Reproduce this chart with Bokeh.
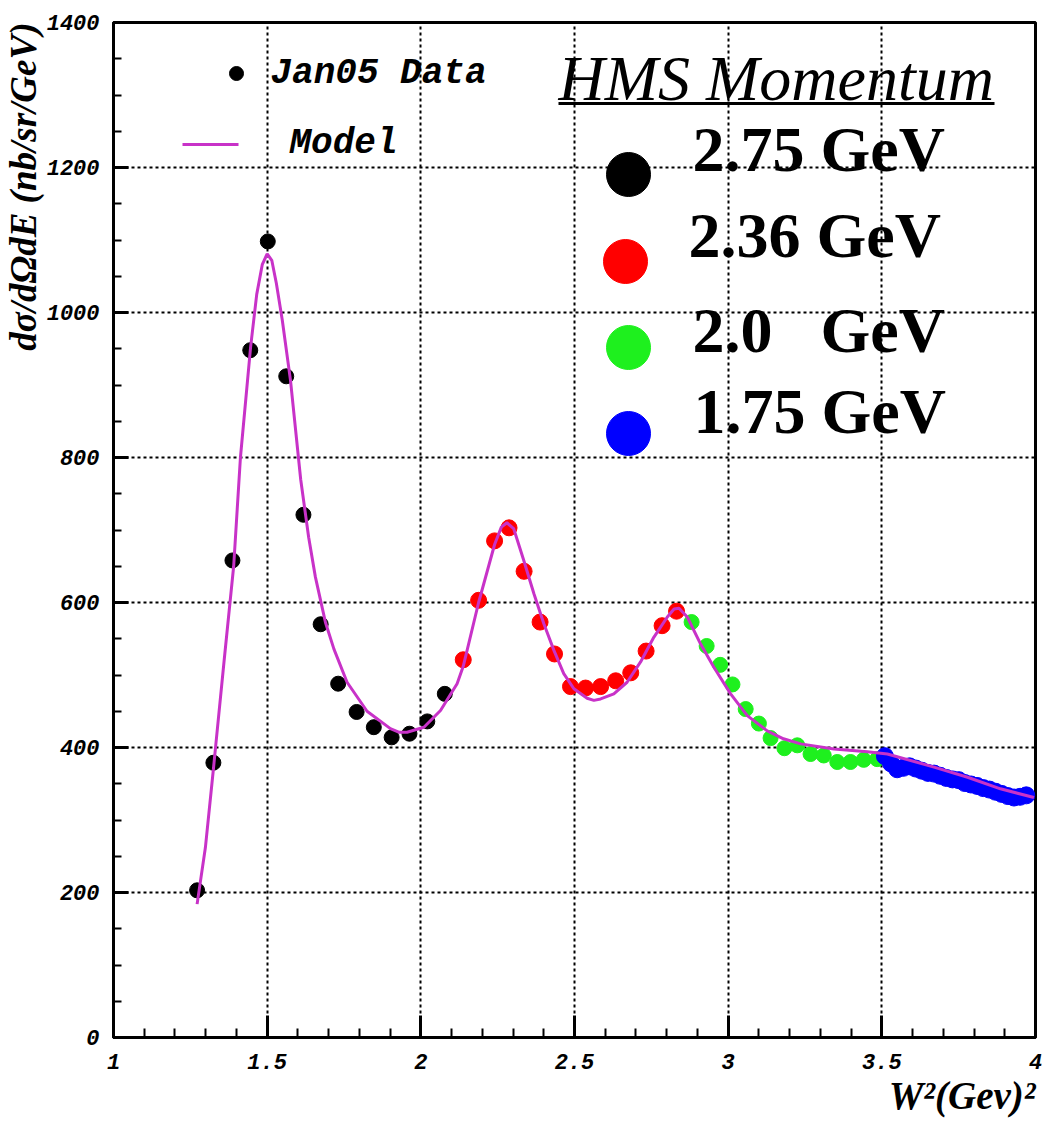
from math import pi
from bokeh.plotting import figure
from bokeh.models import FixedTicker, CustomJSTickFormatter, Label, Title
from bokeh.embed import file_html
from bokeh.resources import INLINE

# ---- data ----
black_x = [1.272, 1.325, 1.387, 1.445, 1.502, 1.562, 1.618, 1.674, 1.731, 1.791, 1.847, 1.905, 1.963, 2.021, 2.078]
black_y = [203, 379, 658, 948, 1098, 912, 721, 570, 488, 449, 428, 414, 419, 436, 474]

red_x = [2.138, 2.188, 2.240, 2.287, 2.336, 2.388, 2.435, 2.487, 2.536, 2.585, 2.634, 2.683, 2.733, 2.785, 2.832]
red_y = [521, 603, 685, 703, 643, 573, 529, 484, 482, 484, 492, 503, 533, 568, 588]

green_x = [2.881, 2.930, 2.974, 3.014, 3.057, 3.100, 3.138, 3.183, 3.225, 3.268, 3.311, 3.355, 3.398, 3.441, 3.485]
green_y = [573, 540, 514, 487, 453, 433, 413, 399, 403, 391, 389, 380, 380, 383, 384]

blue_x = [3.51, 3.53, 3.55, 3.57, 3.59, 3.61, 3.63, 3.65, 3.67, 3.69, 3.71, 3.73,
          3.75, 3.77, 3.79, 3.81, 3.83, 3.85, 3.87, 3.89, 3.91, 3.93, 3.95, 3.97]
blue_y = [388, 378, 370, 372, 374, 371, 368, 365, 364, 361, 358, 356,
          355, 351, 349, 347, 344, 342, 339, 336, 333, 331, 332, 334]

model_x = [1.272, 1.299, 1.325, 1.360, 1.391, 1.413, 1.446, 1.466, 1.484, 1.500, 1.515, 1.530,
           1.549, 1.576, 1.609, 1.635, 1.657, 1.690, 1.717, 1.760, 1.825, 1.901, 1.930, 1.955,
           2.010, 2.064, 2.118, 2.138, 2.188, 2.240, 2.262, 2.280, 2.302, 2.335, 2.368, 2.400,
           2.433, 2.465, 2.498, 2.541, 2.563, 2.585, 2.628, 2.671, 2.715, 2.758, 2.802, 2.824,
           2.840, 2.867, 2.910, 2.953, 3.008, 3.062, 3.127, 3.180, 3.236, 3.344, 3.453, 3.518,
           3.670, 3.779, 3.886, 3.995]
model_y = [184, 262, 370, 520, 650, 800, 952, 1025, 1066, 1081, 1072, 1040,
           990, 906, 770, 690, 635, 572, 536, 490, 450, 426, 421, 421,
           428, 451, 488, 512, 600, 680, 704, 710, 702, 658, 612, 571,
           534, 502, 481, 468, 465, 467, 474, 490, 518, 552, 580, 591,
           592, 580, 543, 511, 474, 444, 423, 412, 405, 398, 394, 391,
           373, 359, 343, 331]

x_major = [1, 1.5, 2, 2.5, 3, 3.5, 4]
x_minor = [round(1 + 0.1 * i, 1) for i in range(31)]
y_major = [0, 200, 400, 600, 800, 1000, 1200, 1400]
y_minor = list(range(0, 1401, 50))

momenta = ["2.75 GeV", "2.36 GeV", "2.0\u00a0\u00a0\u00a0GeV", "1.75 GeV"]
momentum_colors = ["black", "#ff0000", "#1ef01e", "#0000ff"]

MAGENTA = "#c832c8"

# ---- figure ----
W, H = 1046, 1125
L, R, T, B = 113, 11, 22, 88
p = figure(width=W, height=H, x_range=(1, 4), y_range=(0, 1400),
           output_backend="svg", toolbar_location=None,
           min_border_left=L, min_border_right=R, min_border_top=T, min_border_bottom=B,
           background_fill_color="white", border_fill_color="white")
p.outline_line_color = "black"
p.outline_line_width = 3

# pixel -> data helpers for legend decorations
fw = W - L - R
fh = H - T - B
def dx(px):
    return 1 + (px - L) * 3.0 / fw
def dy(py):
    return (H - B - py) * 1400.0 / fh

# axes
p.xaxis.ticker = FixedTicker(ticks=x_major, minor_ticks=x_minor)
p.yaxis.ticker = FixedTicker(ticks=y_major, minor_ticks=y_minor)
p.xaxis.formatter = CustomJSTickFormatter(code="return Number.isInteger(tick) ? tick.toFixed(0) : tick.toFixed(1);")
p.yaxis.formatter = CustomJSTickFormatter(code="return tick.toFixed(0);")
for ax in (p.xaxis, p.yaxis):
    ax.axis_line_width = 3
    ax.major_tick_out = 0
    ax.minor_tick_out = 0
    ax.major_tick_line_width = 3
    ax.minor_tick_line_width = 2
    ax.major_label_text_font = "Liberation Mono"
    ax.major_label_text_font_style = "bold italic"
    ax.major_label_text_font_size = "22px"
    ax.major_label_text_color = "black"
p.xaxis.major_tick_in = 22
p.xaxis.minor_tick_in = 9
p.xaxis.major_label_standoff = 16
p.yaxis.major_tick_in = 15
p.yaxis.minor_tick_in = 8
p.yaxis.major_label_standoff = 14

# grid
p.xgrid.ticker = FixedTicker(ticks=[1.5, 2, 2.5, 3, 3.5])
p.ygrid.ticker = FixedTicker(ticks=[200, 400, 600, 800, 1000, 1200])
for g in (p.xgrid, p.ygrid):
    g.grid_line_color = "black"
    g.grid_line_width = 2
    g.grid_line_dash = "3 3"
    g.grid_line_alpha = 1.0

# data
p.scatter(black_x, black_y, size=15, color="black")
p.scatter(red_x, red_y, size=16, color="#ff0000")
p.scatter(green_x, green_y, size=15, color="#1ef01e")
p.scatter(blue_x, blue_y, size=17, color="#0000ff")
p.line(model_x, model_y, line_color=MAGENTA, line_width=3)

# axis titles (as side titles so they sit outside the frame)
p.add_layout(Title(text="dσ/dΩdE (nb/sr/GeV)", align="right", standoff=0,
                   text_font="Liberation Serif", text_font_style="bold italic",
                   text_font_size="37px", text_color="black"), "left")
p.add_layout(Title(text="W²(Gev)²", align="right", standoff=0,
                   text_font="Liberation Serif", text_font_style="bold italic",
                   text_font_size="39px", text_color="black"), "below")

# left legend
p.scatter([dx(236)], [dy(73)], size=14, color="black")
p.add_layout(Label(x=dx(270), y=dy(73), text="Jan05 Data", text_align="left", text_baseline="middle",
                   text_font="Liberation Mono", text_font_style="bold italic",
                   text_font_size="36px", text_color="black"))
p.line([dx(182), dx(238)], [dy(144), dy(144)], line_color=MAGENTA, line_width=3)
p.add_layout(Label(x=dx(289), y=dy(143), text="Model", text_align="left", text_baseline="middle",
                   text_font="Liberation Mono", text_font_style="bold italic",
                   text_font_size="36px", text_color="black"))

# HMS momentum legend
p.add_layout(Label(x=dx(558), y=dy(78), text="HMS Momentum", text_align="left", text_baseline="middle",
                   text_font="Liberation Serif", text_font_style="italic",
                   text_font_size="64px", text_color="black"))
p.line([dx(558), dx(994)], [dy(103), dy(103)], line_color="black", line_width=3)

text_left = [692, 688, 692, 693]
text_mid = [149, 235, 330, 411]
dot_x = [628, 625, 628, 628]
dot_y = [174, 261, 347, 433]
for lab, col, tx, tm, cx, cy in zip(momenta, momentum_colors, text_left, text_mid, dot_x, dot_y):
    p.scatter([dx(cx)], [dy(cy)], size=44, color=col)
    p.add_layout(Label(x=dx(tx), y=dy(tm), text=lab, text_align="left", text_baseline="middle",
                       text_font="Liberation Serif", text_font_style="bold",
                       text_font_size="64px", text_color="black"))

open("out.html", "w").write(file_html(p, INLINE))
